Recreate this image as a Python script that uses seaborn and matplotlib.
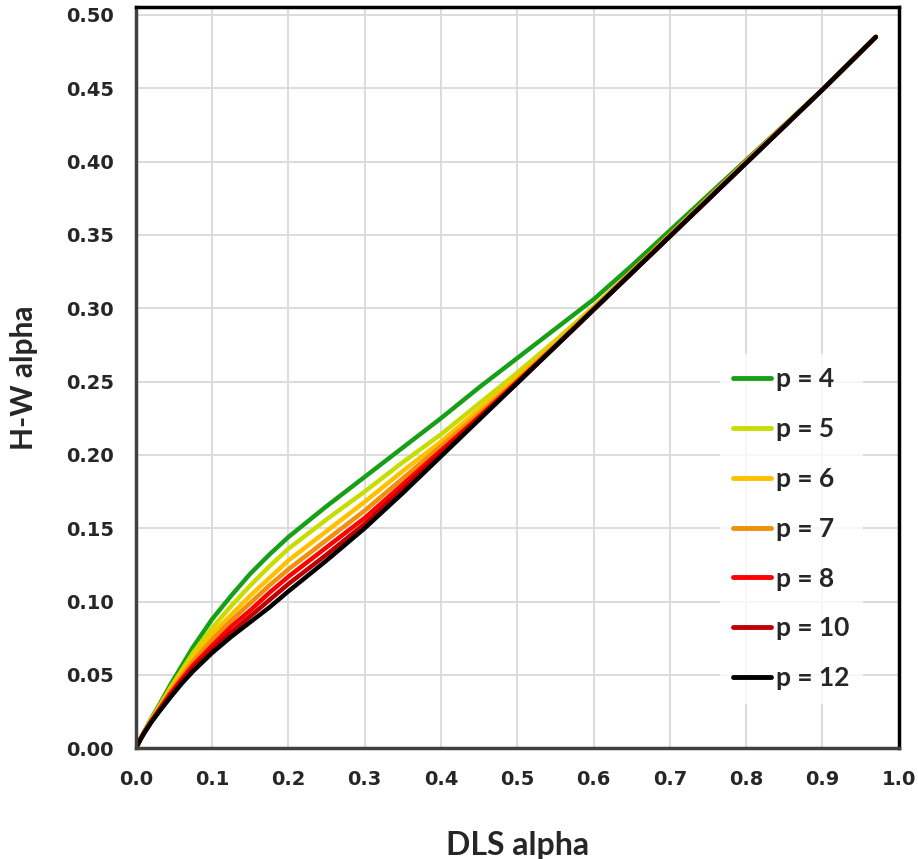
import matplotlib
matplotlib.use("Agg")
import matplotlib.pyplot as plt
import seaborn as sns
import pandas as pd

x_vals = [0, 0.005, 0.01, 0.02, 0.03, 0.045, 0.06, 0.075, 0.1, 0.125, 0.15, 0.175, 0.2,
          0.25, 0.3, 0.35, 0.4, 0.45, 0.5, 0.55, 0.6, 0.65, 0.7, 0.8, 0.9, 0.97]

p4 = [0, 0.0055, 0.0105, 0.020, 0.029, 0.043, 0.056, 0.069, 0.088, 0.104, 0.119, 0.132, 0.144,
      0.165, 0.185, 0.205, 0.225, 0.246, 0.266, 0.286, 0.306, 0.329, 0.353, 0.401, 0.449, 0.485]
p5 = [0, 0.0053, 0.0102, 0.0195, 0.028, 0.041, 0.053, 0.065, 0.082, 0.097, 0.111, 0.124, 0.136,
      0.156, 0.175, 0.195, 0.214, 0.235, 0.256, 0.278, 0.301, 0.325, 0.350, 0.400, 0.449, 0.485]
p6 = [0, 0.0052, 0.010, 0.019, 0.0272, 0.040, 0.051, 0.062, 0.078, 0.091, 0.104, 0.116, 0.128,
      0.148, 0.168, 0.189, 0.209, 0.231, 0.253, 0.276, 0.300, 0.325, 0.350, 0.400, 0.449, 0.485]
p7 = [0, 0.0052, 0.010, 0.0185, 0.0265, 0.0385, 0.049, 0.059, 0.074, 0.087, 0.099, 0.111, 0.122,
      0.142, 0.162, 0.184, 0.206, 0.228, 0.251, 0.275, 0.300, 0.325, 0.350, 0.400, 0.449, 0.485]
p8 = [0, 0.0051, 0.0098, 0.0182, 0.0258, 0.037, 0.047, 0.0565, 0.070, 0.083, 0.094, 0.106, 0.117,
      0.137, 0.157, 0.180, 0.203, 0.226, 0.250, 0.274, 0.299, 0.324, 0.349, 0.399, 0.449, 0.485]
p10 = [0, 0.005, 0.0097, 0.0179, 0.0252, 0.0358, 0.0455, 0.0545, 0.0675, 0.079, 0.090, 0.101, 0.112,
       0.132, 0.153, 0.177, 0.201, 0.225, 0.249, 0.274, 0.299, 0.324, 0.349, 0.399, 0.449, 0.485]
p12 = [0, 0.005, 0.0095, 0.0175, 0.0245, 0.0345, 0.044, 0.0525, 0.065, 0.076, 0.086, 0.096, 0.107,
       0.128, 0.150, 0.174, 0.199, 0.224, 0.249, 0.274, 0.299, 0.324, 0.349, 0.399, 0.449, 0.485]

series_labels = ["p = 4", "p = 5", "p = 6", "p = 7", "p = 8", "p = 10", "p = 12"]
series_values = [p4, p5, p6, p7, p8, p10, p12]
colors = ["#17A017", "#C8DC00", "#FFC000", "#F0900A", "#FF0000", "#C00000", "#000000"]

x_ticks = [0.0, 0.1, 0.2, 0.3, 0.4, 0.5, 0.6, 0.7, 0.8, 0.9, 1.0]
y_ticks = [0.00, 0.05, 0.10, 0.15, 0.20, 0.25, 0.30, 0.35, 0.40, 0.45, 0.50]

rows = []
for lab, vals in zip(series_labels, series_values):
    for xv, yv in zip(x_vals, vals):
        rows.append({"DLS alpha": xv, "H-W alpha": yv, "series": lab})
df = pd.DataFrame(rows)

sns.set_style("white")
plt.rcParams["font.family"] = ["Lato", "DejaVu Sans"]
plt.rcParams["font.weight"] = "bold"

fig = plt.figure(figsize=(9.18, 8.59), dpi=100)
ax = fig.add_axes([0.148, 0.129, 0.831, 0.863])

sns.lineplot(data=df, x="DLS alpha", y="H-W alpha", hue="series",
             hue_order=series_labels, palette=colors, sort=False,
             linewidth=3.2, ax=ax, legend=True)

ax.set_xlim(0, 1.0)
ax.set_ylim(0, 0.5055)
ax.set_xticks(x_ticks)
ax.set_yticks(y_ticks)
tick_font = dict(family=["DejaVu Sans"], size=14, weight="bold")
ax.set_xticklabels([f"{t:.1f}" for t in x_ticks], fontdict=tick_font)
ax.set_yticklabels([f"{t:.2f}" for t in y_ticks], fontdict=tick_font)
ax.grid(True, color="#D9D9D9", linewidth=1.3)
ax.set_axisbelow(True)
ax.tick_params(axis="both", direction="out", length=6, width=1.2, color="#BFBFBF")
ax.tick_params(axis="y", pad=10)
ax.tick_params(axis="x", pad=10)

for side in ["top", "right"]:
    ax.spines[side].set_color("black")
    ax.spines[side].set_linewidth(2.5)
for side in ["left", "bottom"]:
    ax.spines[side].set_color("#404040")
    ax.spines[side].set_linewidth(2.5)

ax.set_xlabel("DLS alpha", fontsize=23, fontweight="bold", labelpad=30)
ax.set_ylabel("H-W alpha", fontsize=21.5, fontweight="bold", labelpad=20)

leg = ax.legend(loc="center left", bbox_to_anchor=(0.748, 0.296), frameon=True,
                fontsize=19, handlelength=1.45, handletextpad=0.2, labelspacing=0.98,
                borderpad=0.5, fancybox=False)
leg.get_frame().set_facecolor("white")
leg.get_frame().set_edgecolor("none")
for t in leg.get_texts():
    t.set_fontweight("bold")
for h in leg.get_lines():
    h.set_linewidth(3.5)

fig.savefig("out.png", dpi=100)
